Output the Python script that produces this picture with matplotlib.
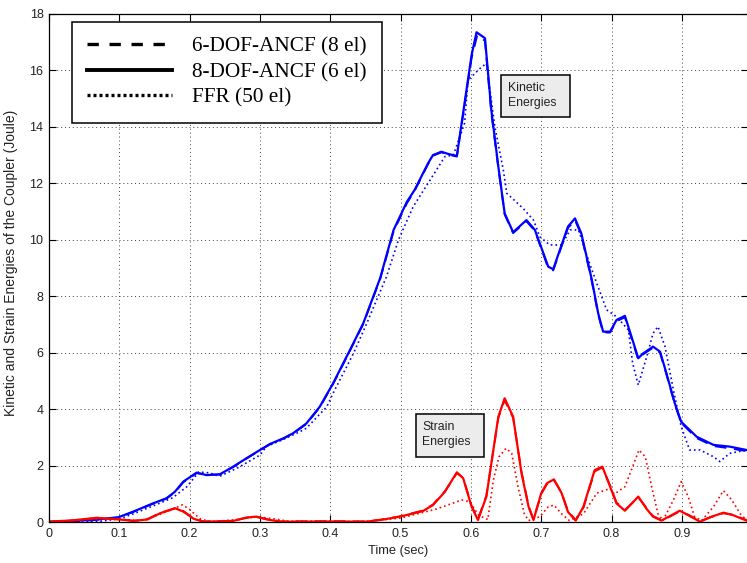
import matplotlib
matplotlib.use("Agg")
import matplotlib.pyplot as plt
from matplotlib.lines import Line2D
from matplotlib.patches import Rectangle
from matplotlib.font_manager import FontProperties

plt.rcParams['font.family'] = ['Liberation Sans', 'DejaVu Sans']

# kinetic energy, 8-DOF ANCF (6 el)
t_kin_8 = [0, 0.027, 0.06, 0.099, 0.12, 0.148, 0.167, 0.179, 0.191, 0.210, 0.224, 0.243,
           0.262, 0.281, 0.300, 0.314, 0.333, 0.347, 0.366, 0.385, 0.404, 0.428, 0.447,
           0.471, 0.490, 0.509, 0.520, 0.539, 0.546, 0.558, 0.568, 0.580, 0.601, 0.608,
           0.620, 0.629, 0.639, 0.648, 0.660, 0.679, 0.691, 0.710, 0.717, 0.738, 0.748,
           0.757, 0.772, 0.781, 0.788, 0.798, 0.807, 0.819, 0.838, 0.845, 0.859, 0.869,
           0.878, 0.890, 0.899, 0.921, 0.945, 0.968, 0.992]
kin_8 = [0.0, 0.05, 0.08, 0.18, 0.38, 0.67, 0.85, 1.08, 1.44, 1.76, 1.67, 1.70,
         1.97, 2.27, 2.56, 2.77, 2.97, 3.15, 3.50, 4.09, 4.92, 6.10, 7.05,
         8.65, 10.35, 11.35, 11.77, 12.71, 13.0, 13.12, 13.04, 12.97, 16.55, 17.35,
         17.14, 14.6, 12.59, 10.94, 10.27, 10.70, 10.35, 9.05, 8.96, 10.47, 10.76,
         10.23, 8.58, 7.40, 6.75, 6.75, 7.16, 7.31, 5.81, 5.98, 6.22, 6.04,
         5.28, 4.21, 3.56, 3.03, 2.74, 2.68, 2.56]

# kinetic energy, 6-DOF ANCF (8 el)
t_kin_6 = [0, 0.027, 0.06, 0.099, 0.12, 0.148, 0.167, 0.179, 0.191, 0.210, 0.224, 0.243,
           0.262, 0.281, 0.300, 0.314, 0.333, 0.347, 0.366, 0.385, 0.404, 0.428, 0.447,
           0.471, 0.490, 0.509, 0.520, 0.539, 0.546, 0.558, 0.568, 0.580, 0.601, 0.609,
           0.620, 0.629, 0.639, 0.648, 0.660, 0.679, 0.691, 0.710, 0.717, 0.738, 0.748,
           0.757, 0.772, 0.781, 0.788, 0.798, 0.807, 0.819, 0.838, 0.845, 0.859, 0.869,
           0.878, 0.890, 0.899, 0.921, 0.945, 0.968, 0.992]
kin_6 = [0.0, 0.04, 0.07, 0.17, 0.37, 0.66, 0.84, 1.06, 1.42, 1.74, 1.68, 1.69,
         1.96, 2.26, 2.55, 2.76, 2.96, 3.14, 3.48, 4.07, 4.90, 6.08, 7.03,
         8.62, 10.30, 11.30, 11.74, 12.68, 12.98, 13.10, 13.02, 12.95, 16.45, 17.25,
         17.05, 14.5, 12.55, 10.90, 10.24, 10.66, 10.32, 9.00, 8.92, 10.42, 10.70,
         10.18, 8.52, 7.35, 6.72, 6.72, 7.12, 7.26, 5.76, 5.95, 6.18, 6.00,
         5.24, 4.18, 3.52, 2.98, 2.70, 2.62, 2.52]

# kinetic energy, FFR (50 el)
t_kin_ffr = [0, 0.03, 0.07, 0.10, 0.12, 0.15, 0.176, 0.196, 0.213, 0.228, 0.243, 0.27,
             0.30, 0.309, 0.33, 0.357, 0.366, 0.395, 0.404, 0.433, 0.452, 0.480, 0.497,
             0.518, 0.542, 0.563, 0.575, 0.591, 0.596, 0.613, 0.622, 0.634, 0.646, 0.651,
             0.674, 0.689, 0.698, 0.712, 0.729, 0.741, 0.753, 0.767, 0.779, 0.793, 0.807,
             0.824, 0.830, 0.838, 0.850, 0.859, 0.866, 0.876, 0.888, 0.899, 0.911, 0.926,
             0.945, 0.954, 0.968, 0.992]
kin_ffr = [0.0, 0.0, 0.03, 0.12, 0.30, 0.60, 0.87, 1.26, 1.78, 1.75, 1.63, 1.95,
           2.38, 2.68, 2.90, 3.21, 3.33, 4.09, 4.57, 5.98, 7.05, 8.70, 10.0,
           11.18, 12.12, 12.95, 13.0, 14.13, 15.66, 16.07, 16.25, 14.01, 12.48, 11.65,
           11.12, 10.70, 10.11, 9.82, 9.82, 10.35, 10.35, 9.29, 8.46, 7.52, 7.28,
           6.81, 5.63, 4.86, 5.86, 6.69, 6.93, 6.22, 4.68, 3.39, 2.56, 2.56,
           2.32, 2.15, 2.44, 2.56]

# strain energy, 8-DOF ANCF (6 el)
t_str_8 = [0, 0.03, 0.068, 0.10, 0.12, 0.14, 0.158, 0.179, 0.191, 0.206, 0.22, 0.262,
           0.281, 0.295, 0.31, 0.33, 0.40, 0.45, 0.471, 0.499, 0.532, 0.546, 0.563,
           0.580, 0.589, 0.601, 0.610, 0.622, 0.639, 0.648, 0.660, 0.672, 0.682, 0.689,
           0.700, 0.708, 0.718, 0.729, 0.738, 0.749, 0.760, 0.776, 0.787, 0.798, 0.807,
           0.819, 0.838, 0.850, 0.859, 0.871, 0.883, 0.897, 0.909, 0.926, 0.940, 0.959,
           0.973, 0.992]
str_8 = [0.03, 0.06, 0.16, 0.10, 0.05, 0.10, 0.32, 0.50, 0.38, 0.12, 0.02, 0.05,
         0.17, 0.20, 0.10, 0.02, 0.03, 0.02, 0.08, 0.20, 0.40, 0.61, 1.08,
         1.77, 1.56, 0.55, 0.08, 0.91, 3.74, 4.39, 3.74, 1.73, 0.55, 0.08,
         1.03, 1.38, 1.52, 1.03, 0.37, 0.06, 0.55, 1.85, 1.97, 1.26, 0.67,
         0.41, 0.91, 0.47, 0.20, 0.06, 0.22, 0.41, 0.25, 0.02, 0.18, 0.34,
         0.25, 0.06]

# strain energy, 6-DOF ANCF (8 el)
t_str_6 = t_str_8
str_6 = [0.02, 0.05, 0.15, 0.11, 0.05, 0.11, 0.33, 0.49, 0.40, 0.13, 0.03, 0.05,
         0.16, 0.19, 0.11, 0.03, 0.04, 0.03, 0.09, 0.21, 0.42, 0.63, 1.10,
         1.74, 1.58, 0.58, 0.10, 0.95, 3.70, 4.32, 3.70, 1.78, 0.58, 0.10,
         1.00, 1.35, 1.50, 1.05, 0.40, 0.08, 0.52, 1.80, 1.94, 1.30, 0.70,
         0.44, 0.88, 0.50, 0.22, 0.08, 0.20, 0.39, 0.27, 0.04, 0.17, 0.32,
         0.27, 0.08]

# strain energy, FFR (50 el)
t_str_ffr = [0, 0.03, 0.07, 0.10, 0.13, 0.16, 0.19, 0.20, 0.215, 0.23, 0.27, 0.295,
             0.32, 0.34, 0.45, 0.50, 0.551, 0.587, 0.598, 0.611, 0.624, 0.632, 0.640,
             0.650, 0.658, 0.667, 0.676, 0.682, 0.698, 0.710, 0.718, 0.729, 0.740, 0.760,
             0.779, 0.798, 0.804, 0.819, 0.830, 0.839, 0.848, 0.857, 0.866, 0.873, 0.888,
             0.899, 0.909, 0.918, 0.928, 0.945, 0.959, 0.971, 0.983, 0.992]
str_ffr = [0.0, 0.05, 0.12, 0.12, 0.05, 0.30, 0.62, 0.45, 0.12, 0.02, 0.10, 0.20,
           0.12, 0.04, 0.03, 0.15, 0.47, 0.79, 0.73, 0.25, 0.10, 1.50, 2.32,
           2.62, 2.44, 1.26, 0.30, 0.06, 0.20, 0.55, 0.61, 0.30, 0.06, 0.30,
           1.03, 1.20, 1.00, 1.26, 1.97, 2.56, 2.32, 1.26, 0.30, 0.06, 0.79,
           1.44, 0.91, 0.20, 0.06, 0.55, 1.12, 0.79, 0.30, 0.08]

legend_labels = ['6-DOF-ANCF (8 el)', '8-DOF-ANCF (6 el)', 'FFR (50 el)']
xticks = [0, 0.1, 0.2, 0.3, 0.4, 0.5, 0.6, 0.7, 0.8, 0.9]
xticklabels = ['0', '0.1', '0.2', '0.3', '0.4', '0.5', '0.6', '0.7', '0.8', '0.9']
yticks = [0, 2, 4, 6, 8, 10, 12, 14, 16, 18]

dash = (0, (6, 4))
dot = (0, (1, 1.8))

fig = plt.figure(figsize=(7.47, 5.63), dpi=100)
ax = fig.add_axes([0.0656, 0.0723, 0.9357, 0.903])

# kinetic (blue) and strain (red) energies
ax.plot(t_kin_ffr, kin_ffr, color='#0000ff', lw=1.2, ls=dot)
ax.plot(t_kin_6, kin_6, color='#0000ff', lw=1.4, ls=dash)
ax.plot(t_kin_8, kin_8, color='#0000ff', lw=1.6)
ax.plot(t_str_ffr, str_ffr, color='#ff0000', lw=1.2, ls=dot)
ax.plot(t_str_6, str_6, color='#ff0000', lw=1.4, ls=dash)
ax.plot(t_str_8, str_8, color='#ff0000', lw=1.6)

ax.set_xlim(0, 0.994)
ax.set_ylim(0, 18)
ax.set_xticks(xticks)
ax.set_xticklabels(xticklabels)
ax.set_yticks(yticks)
ax.tick_params(direction='in', top=True, right=True, length=5, width=0.8,
               labelsize=9, labelcolor='#222222', pad=4)
ax.grid(True, color='#444444', lw=0.7, ls=(0, (1, 3)))
for sp in ax.spines.values():
    sp.set_linewidth(0.9)

ax.set_xlabel('Time (sec)', fontsize=9.3, color='#222222', labelpad=4)
ax.set_ylabel('Kinetic and Strain Energies of the Coupler (Joule)', fontsize=10,
              color='#222222')
ax.yaxis.set_label_coords(-0.045, 0.51)

# label boxes
ax.add_patch(Rectangle((0.6427, 14.35), 0.0981, 1.49, facecolor='#ececec',
                       edgecolor='black', lw=1.1, zorder=5))
ax.text(0.6522, 15.10, 'Kinetic\nEnergies', fontsize=8.8, va='center', ha='left',
        color='#222222', linespacing=1.3, zorder=6)
ax.add_patch(Rectangle((0.5214, 2.31), 0.0971, 1.52, facecolor='#ececec',
                       edgecolor='black', lw=1.1, zorder=5))
ax.text(0.5308, 3.11, 'Strain\nEnergies', fontsize=8.8, va='center', ha='left',
        color='#222222', linespacing=1.3, zorder=6)

handles = [Line2D([], [], color='black', lw=2.4, ls=(0, (3.4, 3.2))),
           Line2D([], [], color='black', lw=2.8),
           Line2D([], [], color='black', lw=2.4, ls=(0, (0.9, 0.9)))]
leg = ax.legend(handles, legend_labels, loc='upper left', bbox_to_anchor=(0.0333, 0.985),
                borderaxespad=0, prop=FontProperties(family='Liberation Serif', size=15.3),
                handlelength=4.0, handletextpad=0.95, labelspacing=0.28, borderpad=0.7,
                fancybox=False, framealpha=1, edgecolor='black')
leg.get_frame().set_linewidth(1.1)
leg.set_zorder(10)

fig.savefig('out.png', dpi=100)
